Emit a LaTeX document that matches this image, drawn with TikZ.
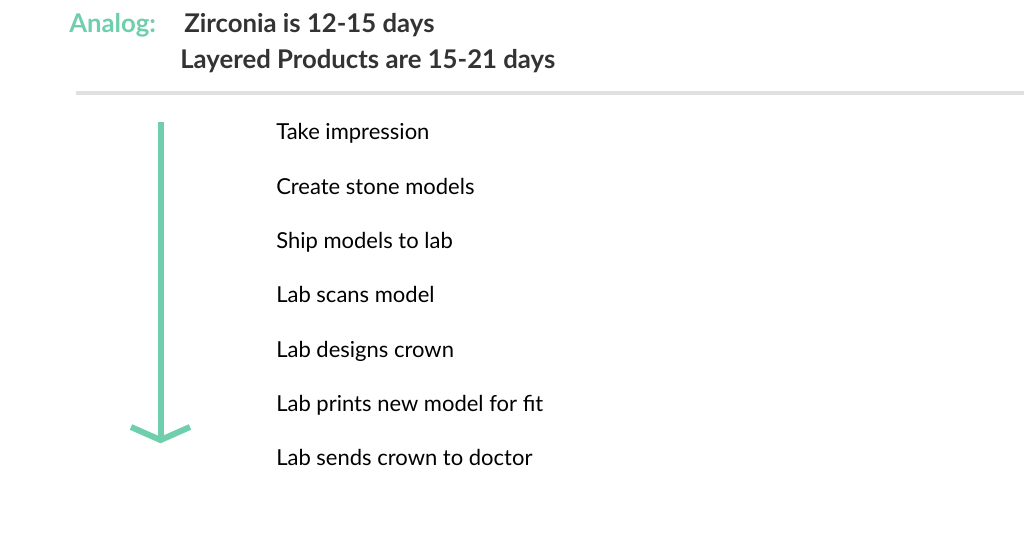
\documentclass[tikz,border=0pt]{standalone}
\usepackage{fontspec}
\setmainfont{Lato}
\definecolor{analoggreen}{RGB}{111,206,172}
\definecolor{darktext}{RGB}{51,51,51}
\definecolor{rulegray}{RGB}{224,224,224}
\tikzset{
  head/.style={anchor=base west,font=\fontsize{19.3}{22}\selectfont\bfseries,text=darktext,inner sep=0pt},
  stepitem/.style={anchor=base west,font=\fontsize{16.5}{19}\selectfont,text=black,inner sep=0pt},
  flow/.style={draw=analoggreen,line width=4.5pt}
}
\begin{document}
\begin{tikzpicture}[x=0.75pt,y=0.75pt,yscale=-1,xscale=1]
        \useasboundingbox (0,0) rectangle (1024,538);
        % Heading
        \node [head,text=analoggreen] (analog) at (69,33) {Analog:};
        \node [head] (zirc) at (184,33) {Zirconia is 12-15 days};
        \node [head] (layer) at (180,69) {Layered Products are 15-21 days};
        % Rule
        \draw [rulegray,line width=3pt] (76,93.5) -- (1024,93.5) ;
        % Steps
        \node [stepitem] (s1) at (276,140) {Take impression};
        \node [stepitem] (s2) at (276,194.3) {Create stone models};
        \node [stepitem] (s3) at (276,248.6) {Ship models to lab};
        \node [stepitem] (s4) at (276,302.9) {Lab scans model};
        \node [stepitem] (s5) at (276,357.2) {Lab designs crown};
        \node [stepitem] (s6) at (276,411.5) {Lab prints new model for fit};
        \node [stepitem] (s7) at (276,465.8) {Lab sends crown to doctor};
        % Arrow
        \coordinate (top) at (160.5,122);
        \coordinate (tip) at (160.5,440);
        \coordinate (wingl) at (131,427);
        \coordinate (wingr) at (190,427);
        \draw [flow] (top) -- (tip) ;
        \draw [flow,line join=miter] (wingl) -- (tip) -- (wingr) ;
\end{tikzpicture}
\end{document}
